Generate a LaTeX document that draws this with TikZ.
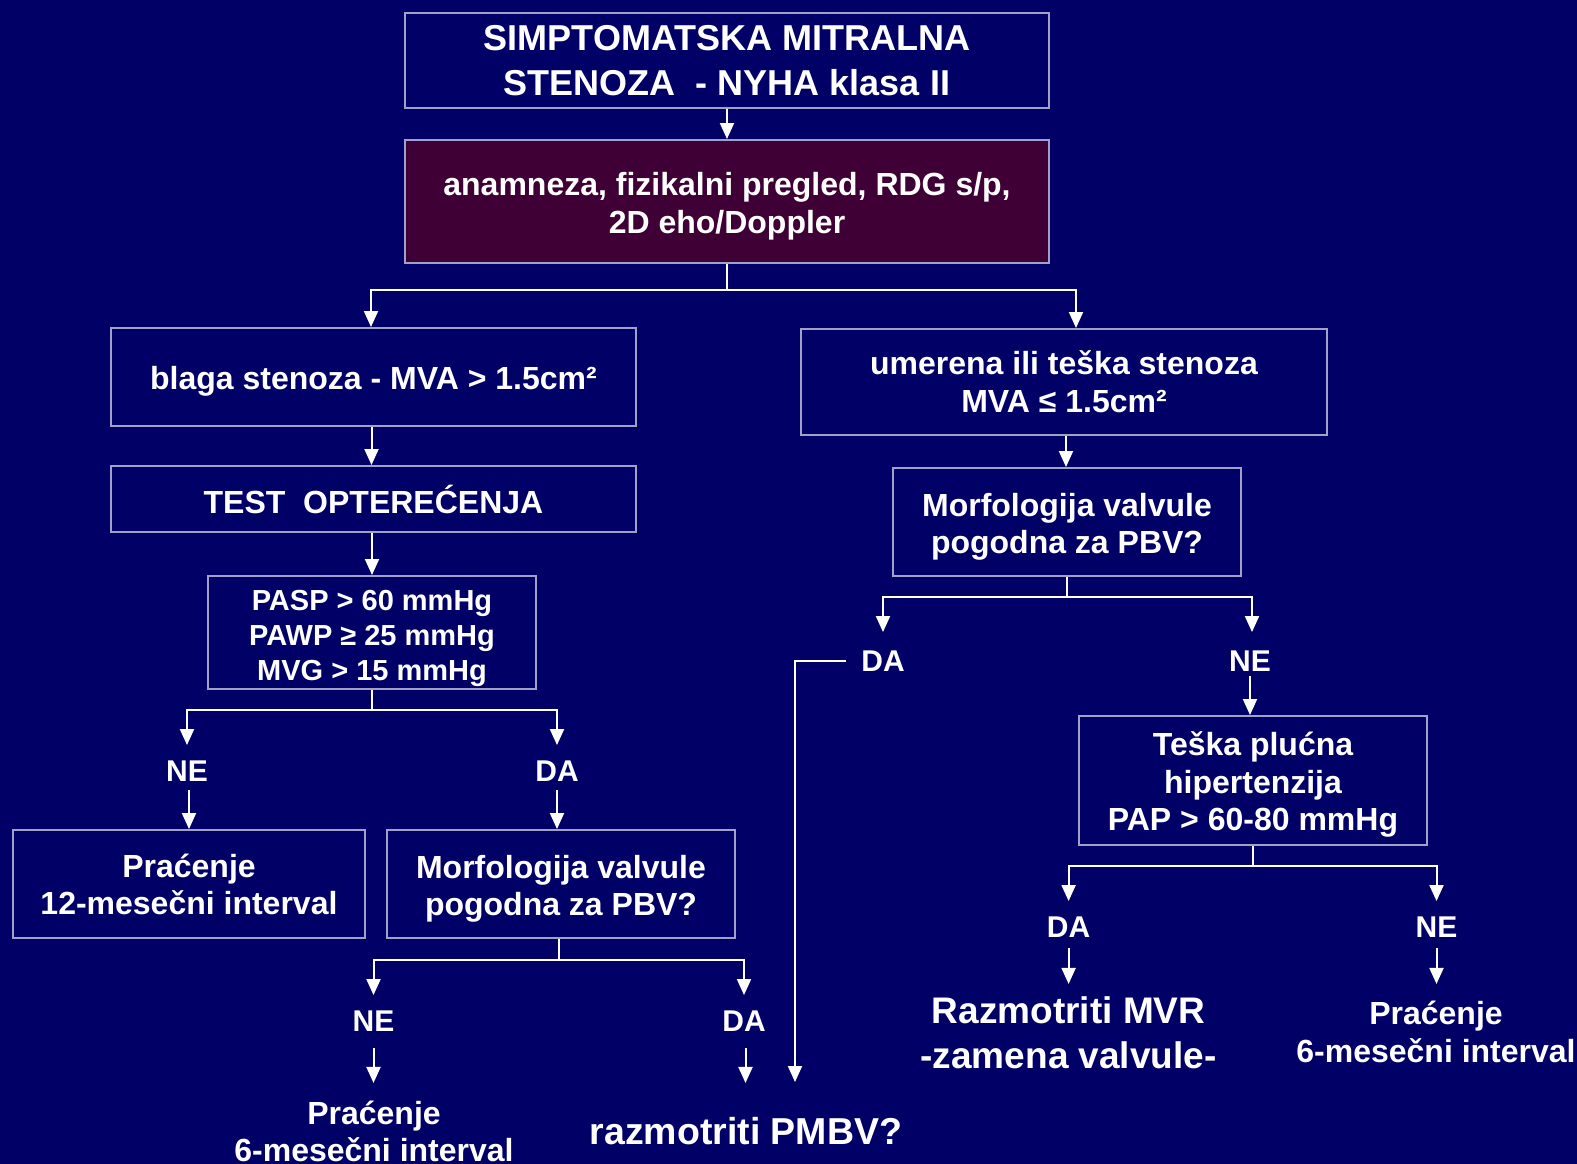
\documentclass[tikz,border=0pt]{standalone}
\usepackage{fontspec}
\setmainfont{Liberation Sans}
\usetikzlibrary{arrows.meta}
\definecolor{bg}{HTML}{000066}
\definecolor{boxline}{HTML}{A0A0C8}
\definecolor{plum}{HTML}{3F0035}
\newcommand\fnt[2]{\fontsize{#1}{#2}\selectfont\bfseries}
% invisible rule that sets a common height for a box's first line
\newcommand\lift{\rule{0pt}{32pt}}
\begin{document}
\begin{tikzpicture}[x=1pt,y=-1pt,
  box/.style={draw=boxline, line width=2pt, text=white, align=center,
    inner sep=0pt, font=\fnt{32}{37}},
  txt/.style={text=white, align=center, inner sep=0pt, font=\fnt{32}{37}},
  lbl/.style={text=white, inner sep=0pt, font=\fnt{30}{36},
    text height=21.5pt, text depth=0pt},
  wire/.style={draw=white, line width=2pt},
  arr/.style={wire, -{Triangle[width=14pt,length=16pt]}}]

% canvas
\fill[bg] (0,0) rectangle (1577,1164);
\useasboundingbox (0,0) rectangle (1577,1164);

% boxes
\node[box, minimum width=644pt, minimum height=94pt, font=\fnt{36}{45}] (title) at (727,60.5)
  {SIMPTOMATSKA MITRALNA\\STENOZA\ \ - NYHA klasa II};
\node[box, fill=plum, minimum width=644pt, minimum height=123pt, font=\fnt{32}{38}] (exam) at (727,201.5)
  {\lift anamneza, fizikalni pregled, RDG s/p,\\2D eho/Doppler};
\node[box, minimum width=525pt, minimum height=98pt] (blaga) at (373.5,377)
  {\lift blaga stenoza - MVA > 1.5cm²};
\node[box, minimum width=525pt, minimum height=66pt] (test) at (373.5,499)
  {TEST\ \ OPTEREĆENJA};
\node[box, minimum width=328pt, minimum height=113pt, font=\fnt{29}{35}] (pasp) at (372,632.5)
  {\lift PASP > 60 mmHg\\PAWP ≥ 25 mmHg\\MVG > 15 mmHg};
\node[box, minimum width=526pt, minimum height=106pt, font=\fnt{32}{38}] (umer) at (1064,382)
  {umerena ili teška stenoza\\MVA ≤ 1.5cm²};
\node[box, minimum width=348pt, minimum height=108pt] (morfR) at (1067,522)
  {\lift Morfologija valvule\\pogodna za PBV?};
\node[box, minimum width=352pt, minimum height=108pt] (prac12) at (189,884)
  {Praćenje\\12-mesečni interval};
\node[box, minimum width=348pt, minimum height=108pt] (morfL) at (561,884)
  {\lift Morfologija valvule\\pogodna za PBV?};
\node[box, minimum width=348pt, minimum height=129pt, font=\fnt{32}{37.5}] (teska) at (1253,780.5)
  {\lift Teška plućna\\hipertenzija\\PAP > 60-80 mmHg};

% answer labels
\node[lbl] (neL)  at (187,771)    {NE};
\node[lbl] (daL)  at (557,771)    {DA};
\node[lbl] (neLL) at (373.5,1021) {NE};
\node[lbl] (daLL) at (744,1021)   {DA};
\node[lbl] (daR)  at (883,661)    {DA};
\node[lbl] (neR)  at (1250,661)   {NE};
\node[lbl] (daRR) at (1068.6,927) {DA};
\node[lbl] (neRR) at (1436.5,927) {NE};

% outcomes
\node[txt] (pracLL) at (374,1131) {Praćenje\\6-mesečni interval};
\node[txt, font=\fnt{37.5}{43}] (pmbv) at (746,1131) {razmotriti PMBV?};
\node[txt, font=\fnt{37}{45}] (mvr) at (1068.6,1033) {Razmotriti MVR\\-zamena valvule-};
\node[txt, font=\fnt{32}{37.5}] (pracRR) at (1436,1032) {Praćenje\\6-mesečni interval};
\coordinate (pmbvin) at (795,1082);

% connectors: top
\draw[arr] (title.south) -- (exam.north);
\draw[wire] (exam.south) -- ++(0,26) coordinate (j0);
\draw[arr] (j0) -| ([xshift=-2.5pt]blaga.north);
\draw[arr] (j0) -| ([xshift=12pt]umer.north);

% connectors: left branch
\draw[arr] ([xshift=-2pt]blaga.south) -- ([xshift=-2pt]test.north);
\draw[arr] (test.south -| pasp.north) -- (pasp.north);
\draw[wire] (pasp.south) -- ++(0,20) coordinate (j1);
\draw[arr] (j1) -| ([yshift=15pt]neL.north);
\draw[arr] (j1) -| ([yshift=15pt]daL.north);
\draw[arr] ([xshift=2pt,yshift=-8pt]neL.south) -- ([xshift=2pt]neL.south |- prac12.north);
\draw[arr] ([yshift=-8pt]daL.south) -- (daL.south |- morfL.north);
\draw[wire] ([xshift=-2pt]morfL.south) -- ++(0,21) coordinate (j2);
\draw[arr] (j2) -| ([yshift=15pt]neLL.north);
\draw[arr] (j2) -| ([yshift=15pt]daLL.north);
\draw[arr] ([yshift=-16pt]neLL.south) -- ++(0,35);
\draw[arr] ([xshift=1.5pt,yshift=-16pt]daLL.south) -- ++(0,35);

% connectors: right branch
\draw[arr] ([xshift=2pt]umer.south) -- ([xshift=-1pt]morfR.north);
\draw[wire] (morfR.south) -- ++(0,20) coordinate (j3);
\draw[arr] (j3) -| ([yshift=18pt]daR.north);
\draw[arr] (j3) -| ([xshift=2pt,yshift=18pt]neR.north);
\draw[arr] ([xshift=-15pt]daR.west) -| (pmbvin);
\draw[arr] ([yshift=-4pt]neR.south) -- ([xshift=-3pt]teska.north);
\draw[wire] (teska.south) -- ++(0,20) coordinate (j4);
\draw[arr] (j4) -| ([yshift=15pt]daRR.north);
\draw[arr] (j4) -| ([yshift=15pt]neRR.north);
\draw[arr] ([yshift=-10pt]daRR.south) -- ++(0,36);
\draw[arr] ([yshift=-10pt]neRR.south) -- ++(0,36);
\end{tikzpicture}
\end{document}
